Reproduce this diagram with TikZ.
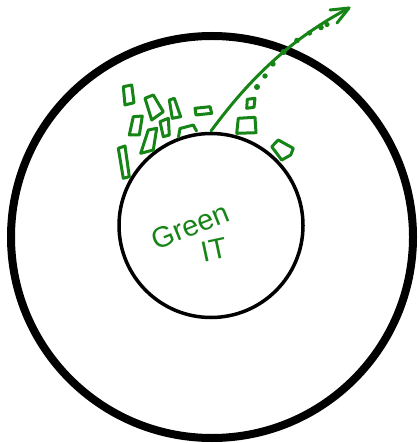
\documentclass[tikz,border=0pt]{standalone}
\usepackage{fontspec}
\setsansfont{Liberation Sans}
\begin{document}
\begin{tikzpicture}[x=1pt,y=-1pt,
  gline/.style={draw=gr,line width=3pt,line cap=round,line join=round},
  gbox/.style={draw=gr,line width=3pt,line join=round,line cap=round},
  gdot/.style={fill=gr,draw=none},
  gtext/.style={text=gr,font=\sffamily\fontsize{29}{32}\selectfont,inner sep=0pt}]
\definecolor{gr}{RGB}{22,132,22}
\useasboundingbox (0,0) rectangle (418,443);
% circles
\draw[line width=8pt] (212,237) circle [radius=201pt];
\draw[line width=3.5pt] (211,225.5) circle [radius=92pt];
% arrow
\coordinate (s) at (211,131);
\coordinate (t) at (349,8);
\draw[gline] (s) .. controls (245,85) and (285,42) .. (t);
\draw[gline] (330,10) -- (t) -- (337,23);
% dots
\foreach \p/\r in {(257,87)/3,(265,76)/2.7,(273,64)/2.7,(283.5,52)/3.1,(297,40.5)/2.8,(309.5,33)/2.7,(321,27.5)/2.8,(327,24.5)/2.6}
  \fill[gdot] \p circle [radius=\r pt];
% boxes
\draw[gbox] (123.3,86.7) -- (131.7,85) -- (134,102.7) -- (125,105) -- cycle;
\draw[gbox] (145,98.3) -- (153.3,95) -- (163.3,111.7) -- (151.7,120) -- cycle;
\draw[gbox] (169.3,100) -- (174.3,98.3) -- (180.7,116.7) -- (172.3,118.3) -- cycle;
\draw[gbox] (195,108.3) -- (210,106.7) -- (211.7,113.3) -- (196,115) -- cycle;
\draw[gbox] (133.3,116.7) -- (142.3,116) -- (139.3,135) -- (129.3,135) -- cycle;
\draw[gbox] (160,121.7) -- (168.3,118.3) -- (169.3,135) -- (163.3,136.7) -- cycle;
\draw[gbox] (148.3,130) -- (156.7,128.3) -- (153.3,150) -- (140.7,153.3) -- cycle;
\draw[gbox] (178.5,137) -- (180,128.5) -- (193.3,125) -- (196.5,131);
\draw[gbox] (118.3,148.3) -- (125,146) -- (129.3,176.7) -- (123.3,178.3) -- cycle;
\draw[gbox] (247.3,99.3) -- (255,98.3) -- (254,107.3) -- (246.7,108.3) -- cycle;
\draw[gbox] (238.3,118.3) -- (255,117.3) -- (256,132.7) -- (236.7,133.3) -- cycle;
\draw[gbox] (271.7,146.7) -- (278.3,140) -- (293.3,148.3) -- (290.7,155) -- (281.7,160) -- cycle;
% text
\node[gtext,rotate=22] (green) at (190,226) {Green};
\node[gtext,rotate=12] (it) at (214,250) {IT};
\end{tikzpicture}
\end{document}
